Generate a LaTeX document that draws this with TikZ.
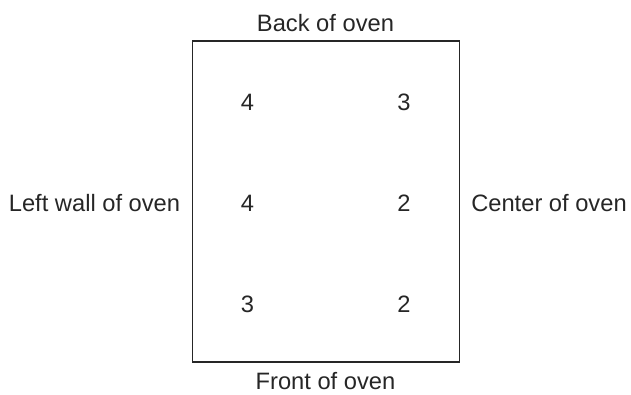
\documentclass[tikz,border=0pt]{standalone}
\usepackage{fontspec}
\setmainfont{Liberation Sans}
\begin{document}
\begin{tikzpicture}[x=1pt,y=1pt,
  lbl/.style={inner sep=0pt,font=\fontsize{23.7}{27}\selectfont,text=black!85},
  num/.style={lbl}]
\useasboundingbox (0,0) rectangle (631,395);
% oven outline
\node[draw=black!85,line width=1.3pt,minimum width=266.5pt,minimum height=321pt,inner sep=0pt]
  (oven) at (326,193.5) {};
% side labels
\node[lbl] (back)  at (325.5,372) {Back of oven};
\node[lbl] (front) at (325.5,13.5) {Front of oven};
\node[lbl] (left)  at (94.5,192) {Left wall of oven};
\node[lbl] (centre) at (549,192) {Center of oven};
% readings
\node[num] (a1) at (247.5,293) {4};
\node[num] (b1) at (404,293) {3};
\node[num] (a2) at (247.5,192) {4};
\node[num] (b2) at (404,192) {2};
\node[num] (a3) at (247.5,91) {3};
\node[num] (b3) at (404,91) {2};
\end{tikzpicture}
\end{document}
